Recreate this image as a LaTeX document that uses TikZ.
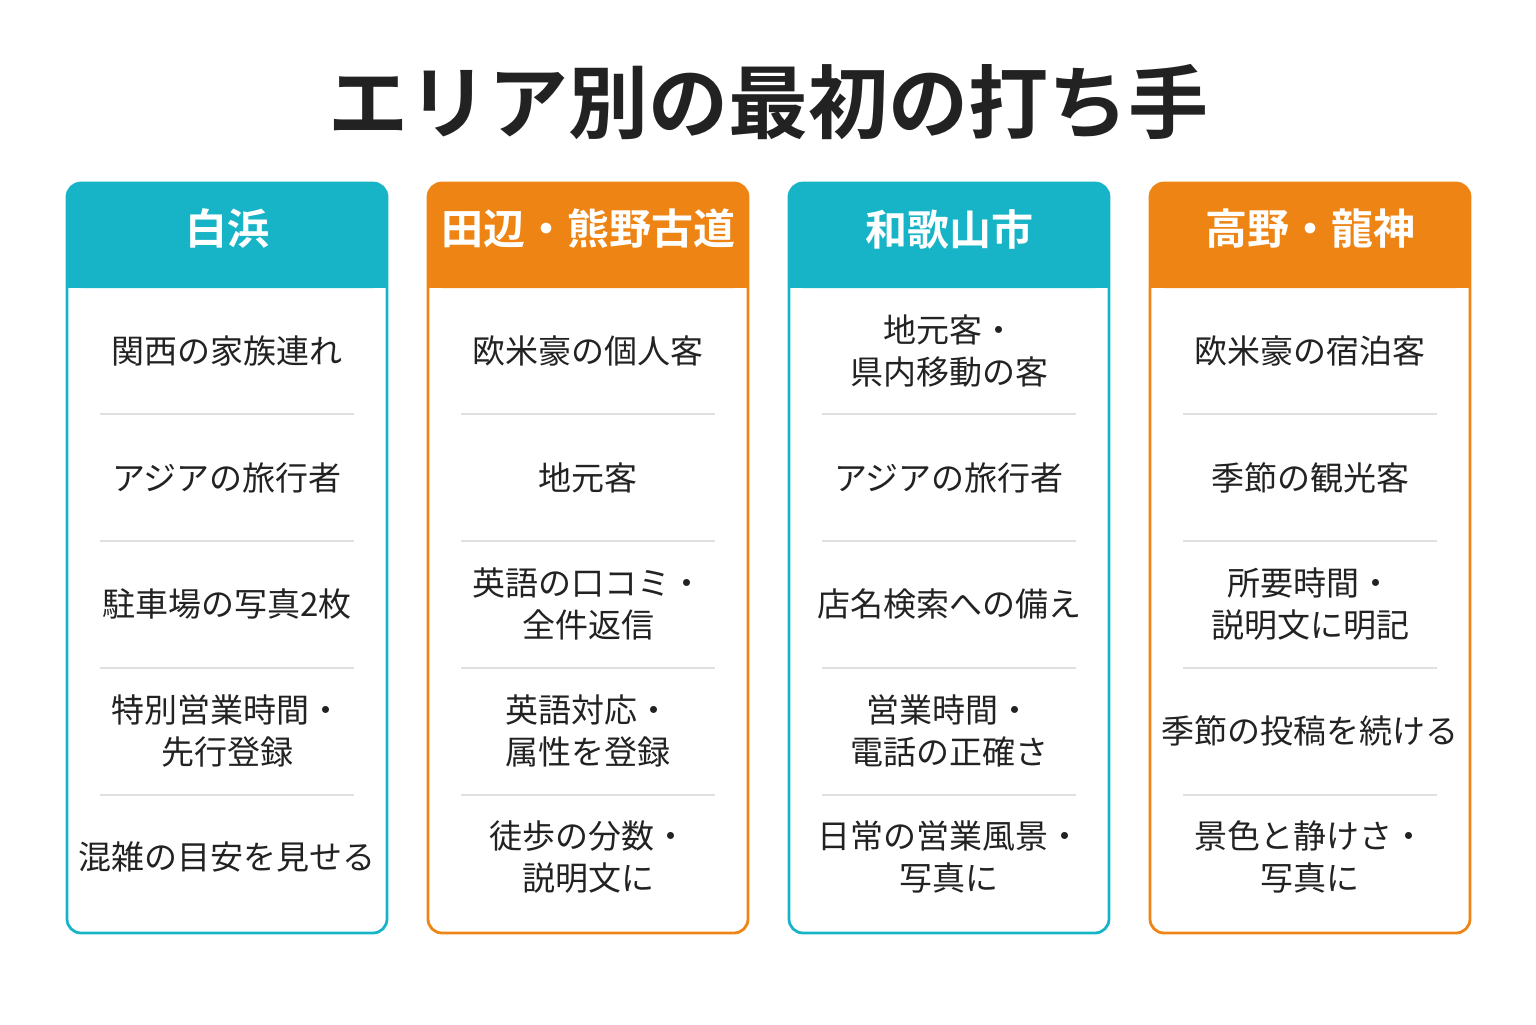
\documentclass[tikz,border=0pt]{standalone}
\usepackage{fontspec}
\newfontfamily\jpfont{Noto Sans CJK JP}
\newfontfamily\jpbold{Noto Sans CJK JP Bold}
\usetikzlibrary{calc}
\definecolor{teal}{HTML}{16B4C6}
\definecolor{orng}{HTML}{EE8414}
\definecolor{ink}{HTML}{222222}
\tikzset{
	card/.style={line width=1.4pt, rounded corners=7pt},
	head/.style={text=white, font=\jpbold\fontsize{21}{24}\selectfont},
	item/.style={text=ink, align=center, font=\jpfont\fontsize{16.5}{21}\selectfont},
	sep/.style={draw=black!12, line width=0.6pt}
}
% #1 left x, #2 colour, #3 name, #4 header, #5-#9 rows
\newcommand{\areacol}[9]{
	\fill[#2, rounded corners=7pt] (#1,183) rectangle ++(320,105);
	\fill[#2] (#1,250) rectangle ++(320,38);
	\draw[card, draw=#2] (#1,183) rectangle ++(320,750);
	\node[head] (#3h) at (#1+160,229) {#4};
	\node[item] (#3a) at (#1+160,351) {#5};
	\node[item] (#3b) at (#1+160,478) {#6};
	\node[item] (#3c) at (#1+160,604) {#7};
	\node[item] (#3d) at (#1+160,731) {#8};
	\node[item] (#3e) at (#1+160,857) {#9};
	\foreach \y in {414,541,668,795}
		\draw[sep] (#1+33,\y) -- (#1+287,\y);
}
\begin{document}
\begin{tikzpicture}[x=0.5pt,y=-0.5pt]
	\useasboundingbox (0,0) rectangle (1536,1024);
	\node[text=ink, font=\jpbold\fontsize{40}{44}\selectfont] (title) at (768,102) {エリア別の最初の打ち手};
	\areacol{67}{teal}{shira}{白浜}{関西の家族連れ}{アジアの旅行者}{駐車場の写真2枚}{特別営業時間・\\先行登録}{混雑の目安を見せる}
	\areacol{428}{orng}{kuma}{田辺・熊野古道}{欧米豪の個人客}{地元客}{英語の口コミ・\\全件返信}{英語対応・\\属性を登録}{徒歩の分数・\\説明文に}
	\areacol{789}{teal}{waka}{和歌山市}{地元客・\\県内移動の客}{アジアの旅行者}{店名検索への備え}{営業時間・\\電話の正確さ}{日常の営業風景・\\写真に}
	\areacol{1150}{orng}{koya}{高野・龍神}{欧米豪の宿泊客}{季節の観光客}{所要時間・\\説明文に明記}{季節の投稿を続ける}{景色と静けさ・\\写真に}
\end{tikzpicture}
\end{document}
